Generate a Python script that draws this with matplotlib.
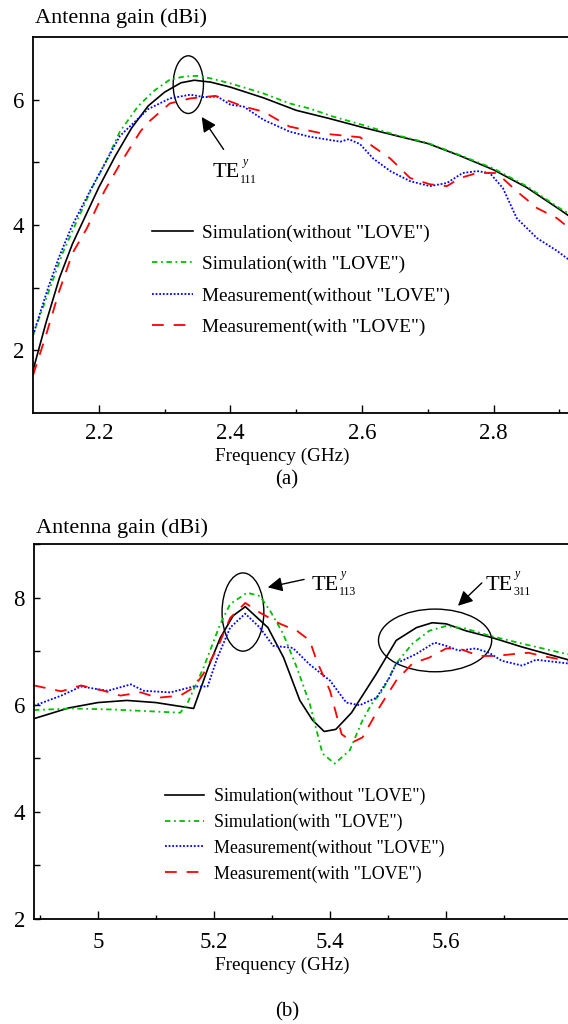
import numpy as np
import matplotlib
matplotlib.use("Agg")
from matplotlib import pyplot as plt
from matplotlib.patches import Ellipse
from matplotlib.ticker import FormatStrFormatter
from matplotlib.transforms import offset_copy

plt.rcParams['font.family'] = ['Liberation Serif', 'DejaVu Serif']

labels = ['Simulation(without "LOVE")', 'Simulation(with "LOVE")',
          'Measurement(without "LOVE")', 'Measurement(with "LOVE")']

# (a) 2.1 - 2.9 GHz
a_sim_wo_f = [2.10, 2.12, 2.14, 2.16, 2.18, 2.20, 2.225, 2.25, 2.275, 2.30, 2.325, 2.345, 2.37,
              2.40, 2.45, 2.50, 2.55, 2.60, 2.65, 2.70, 2.75, 2.80, 2.85, 2.90, 2.915]
a_sim_wo_g = [1.68, 2.45, 3.15, 3.70, 4.15, 4.60, 5.10, 5.55, 5.90, 6.12, 6.27, 6.31, 6.28,
              6.20, 6.03, 5.83, 5.70, 5.56, 5.43, 5.30, 5.10, 4.88, 4.60, 4.25, 4.14]
a_sim_w_f = [2.10, 2.126, 2.145, 2.164, 2.19, 2.209, 2.232, 2.26, 2.285, 2.308, 2.33, 2.349,
             2.37, 2.40, 2.45, 2.49, 2.52, 2.556, 2.60, 2.65, 2.70, 2.75, 2.80, 2.85, 2.90, 2.915]
a_sim_w_g = [2.24, 3.00, 3.55, 4.00, 4.60, 4.97, 5.49, 5.90, 6.15, 6.32, 6.37, 6.38,
             6.34, 6.26, 6.10, 5.94, 5.86, 5.73, 5.60, 5.44, 5.31, 5.11, 4.90, 4.62, 4.27, 4.18]
a_meas_wo_f = [2.10, 2.123, 2.14, 2.159, 2.187, 2.206, 2.232, 2.247, 2.275, 2.308, 2.339, 2.36,
               2.38, 2.40, 2.42, 2.45, 2.49, 2.52, 2.567, 2.58, 2.597, 2.617, 2.643, 2.673,
               2.703, 2.729, 2.753, 2.775, 2.794, 2.814, 2.835, 2.866, 2.896, 2.915]
a_meas_wo_g = [2.24, 3.00, 3.50, 3.98, 4.55, 4.92, 5.42, 5.57, 5.85, 6.02, 6.08, 6.04,
               6.05, 5.92, 5.89, 5.68, 5.49, 5.41, 5.33, 5.37, 5.29, 5.06, 4.86, 4.70,
               4.62, 4.67, 4.83, 4.86, 4.83, 4.59, 4.11, 3.79, 3.59, 3.44]
a_meas_w_f = [2.10, 2.12, 2.14, 2.16, 2.182, 2.209, 2.232, 2.263, 2.273, 2.308, 2.339, 2.377,
              2.42, 2.45, 2.49, 2.54, 2.597, 2.617, 2.643, 2.673, 2.703, 2.729, 2.749, 2.775,
              2.805, 2.835, 2.866, 2.896, 2.915]
a_meas_w_g = [1.60, 2.25, 2.95, 3.55, 3.95, 4.55, 4.97, 5.49, 5.62, 5.94, 6.02, 6.06,
              5.89, 5.81, 5.57, 5.46, 5.40, 5.25, 5.06, 4.75, 4.65, 4.62, 4.75, 4.83,
              4.83, 4.54, 4.27, 4.11, 3.95]

# (b) 4.9 - 5.8 GHz
b_sim_wo_f = [4.89, 4.95, 5.00, 5.05, 5.10, 5.165, 5.19, 5.211, 5.233, 5.254, 5.293, 5.32,
              5.348, 5.37, 5.39, 5.41, 5.437, 5.48, 5.514, 5.549, 5.576, 5.60, 5.634, 5.68,
              5.73, 5.81]
b_sim_wo_g = [5.74, 5.94, 6.04, 6.08, 6.04, 5.93, 6.69, 7.25, 7.66, 7.83, 7.44, 6.88,
              6.08, 5.71, 5.50, 5.54, 5.85, 6.58, 7.20, 7.44, 7.53, 7.51, 7.38, 7.25,
              7.08, 6.84]
b_sim_w_f = [4.89, 4.954, 5.027, 5.085, 5.142, 5.154, 5.182, 5.211, 5.228, 5.257, 5.279, 5.297,
             5.319, 5.343, 5.365, 5.387, 5.408, 5.434, 5.456, 5.471, 5.49, 5.514, 5.542,
             5.571, 5.60, 5.634, 5.674, 5.731, 5.81]
b_sim_w_g = [5.90, 5.93, 5.91, 5.88, 5.85, 6.02, 6.69, 7.51, 7.88, 8.09, 8.03, 7.75,
             7.33, 6.69, 6.02, 5.09, 4.90, 5.15, 5.71, 6.00, 6.26, 6.77, 7.14,
             7.38, 7.47, 7.42, 7.29, 7.14, 6.94]
b_meas_wo_f = [4.89, 4.937, 4.971, 5.017, 5.057, 5.079, 5.125, 5.165, 5.189, 5.206, 5.228,
               5.254, 5.279, 5.302, 5.336, 5.365, 5.40, 5.428, 5.451, 5.48, 5.502, 5.514,
               5.549, 5.58, 5.60, 5.622, 5.651, 5.674, 5.696, 5.731, 5.755, 5.81]
b_meas_wo_g = [5.98, 6.17, 6.34, 6.26, 6.38, 6.26, 6.23, 6.34, 6.34, 6.88, 7.44,
               7.70, 7.44, 7.10, 7.06, 6.75, 6.45, 6.04, 5.99, 6.13, 6.50, 6.77,
               6.95, 7.16, 7.10, 7.01, 7.05, 6.97, 6.82, 6.73, 6.84, 6.77]
b_meas_w_f = [4.89, 4.937, 4.971, 5.01, 5.039, 5.074, 5.103, 5.142, 5.165, 5.182, 5.206,
              5.228, 5.254, 5.279, 5.314, 5.343, 5.365, 5.377, 5.40, 5.42, 5.439, 5.456,
              5.485, 5.514, 5.542, 5.571, 5.60, 5.622, 5.657, 5.686, 5.72, 5.742, 5.765, 5.81]
b_meas_w_g = [6.36, 6.25, 6.36, 6.26, 6.17, 6.23, 6.13, 6.17, 6.32, 6.58, 7.06,
              7.62, 7.90, 7.72, 7.51, 7.38, 7.20, 6.82, 6.26, 5.45, 5.30, 5.39,
              5.95, 6.45, 6.77, 6.88, 7.05, 7.05, 6.91, 6.91, 6.95, 6.97, 6.91, 6.82]

styles = [dict(color='black', lw=1.2, ls='-'),
          dict(color='#00c000', lw=1.3, ls=(0, (3, 2, 1, 2))),
          dict(color='#0000ff', lw=1.3, ls=(0, (1, 1))),
          dict(color='#ff0000', lw=1.3, ls=(0, (6.5, 5.5)))]

fig = plt.figure(figsize=(5.68, 10.24), dpi=100)
W, H = 568.0, 1024.0


def setup(ax, xlim, ylim, xmaj, xmin, ymaj, ymin, xpad):
    ax.set_xlim(*xlim)
    ax.set_ylim(*ylim)
    ax.set_xticks(xmaj)
    ax.set_xticks(xmin, minor=True)
    ax.set_yticks(ymaj)
    ax.set_yticks(ymin, minor=True)
    ax.xaxis.set_major_formatter(FormatStrFormatter('%g'))
    ax.spines['right'].set_visible(False)
    for s in ['left', 'bottom', 'top']:
        ax.spines[s].set_linewidth(1.3)
    ax.tick_params(axis='both', which='both', direction='in', labelsize=16.5, width=1,
                   top=False, right=False)
    ax.tick_params(axis='x', which='major', length=6, pad=xpad)
    ax.tick_params(axis='x', which='minor', length=3)
    ax.tick_params(axis='y', which='both', length=4.5, pad=6.5)


def te_label(ax, x, y, sub):
    t = ax.text(x, y, 'TE', fontsize=16, ha='left', va='baseline')
    tr_sub = offset_copy(ax.transData, fig=fig, x=19.8, y=-4, units='points')
    tr_sup = offset_copy(ax.transData, fig=fig, x=21.5, y=9, units='points')
    ax.text(x, y, sub, fontsize=8.5, ha='left', va='baseline', transform=tr_sub)
    ax.text(x, y, 'y', fontsize=8.5, style='italic', ha='left', va='baseline', transform=tr_sup)
    return t


# (a)
ax1 = fig.add_axes([33 / W, 1 - 413 / H, (W - 33) / W, 376 / H])
setup(ax1, (2.1, 2.913), (1, 7), [2.2, 2.4, 2.6, 2.8], [2.3, 2.5, 2.7, 2.9],
      [2, 4, 6], [3, 5], 7)
ax1.plot(a_sim_wo_f, a_sim_wo_g, label=labels[0], **styles[0])
ax1.plot(a_sim_w_f, a_sim_w_g, label=labels[1], **styles[1])
ax1.plot(a_meas_wo_f, a_meas_wo_g, label=labels[2], **styles[2])
ax1.plot(a_meas_w_f, a_meas_w_g, label=labels[3], **styles[3])
ax1.add_patch(Ellipse((2.336, 6.24), 0.046, 0.92, fill=False, ec='black', lw=1))
ax1.annotate('', xy=(2.354, 5.76), xytext=(2.392, 5.17),
             arrowprops=dict(arrowstyle='-|>', mutation_scale=22, color='black', lw=1))
te_label(ax1, 2.373, 4.76, '111')
ax1.legend(loc='upper left', bbox_to_anchor=(152 / W, 1 - 224 / H),
           bbox_transform=fig.transFigure, frameon=False, fontsize=13.85,
           handlelength=2.13, handletextpad=0.47, labelspacing=0.73, borderpad=0,
           borderaxespad=0)
fig.text(35 / W, 1 - 18 / H, 'Antenna gain (dBi)', fontsize=16, va='center', ha='left')
fig.text(282 / W, 1 - 456 / H, 'Frequency (GHz)', fontsize=13.8, va='center', ha='center')
fig.text(287 / W, 1 - 480 / H, '(a)', fontsize=15, va='center', ha='center')

# (b)
ax2 = fig.add_axes([34 / W, 1 - 919 / H, (W - 34) / W, 375 / H])
setup(ax2, (4.89, 5.81), (2, 9), [5.0, 5.2, 5.4, 5.6], [4.9, 5.1, 5.3, 5.5, 5.7],
      [2, 4, 6, 8], [3, 5, 7, 9], 9.5)
ax2.plot(b_sim_wo_f, b_sim_wo_g, label=labels[0], **styles[0])
ax2.plot(b_sim_w_f, b_sim_w_g, label=labels[1], **styles[1])
ax2.plot(b_meas_wo_f, b_meas_wo_g, label=labels[2], **styles[2])
ax2.plot(b_meas_w_f, b_meas_w_g, label=labels[3], **styles[3])
ax2.add_patch(Ellipse((5.25, 7.73), 0.072, 1.46, fill=False, ec='black', lw=1))
ax2.add_patch(Ellipse((5.581, 7.2), 0.195, 1.17, fill=False, ec='black', lw=1))
ax2.annotate('', xy=(5.288, 8.18), xytext=(5.36, 8.35),
             arrowprops=dict(arrowstyle='-|>', mutation_scale=22, color='black', lw=1))
te_label(ax2, 5.368, 8.15, '113')
ax2.annotate('', xy=(5.617, 7.81), xytext=(5.665, 8.31),
             arrowprops=dict(arrowstyle='-|>', mutation_scale=22, color='black', lw=1))
te_label(ax2, 5.668, 8.15, '311')
ax2.legend(loc='upper left', bbox_to_anchor=(165 / W, 1 - 788 / H),
           bbox_transform=fig.transFigure, frameon=False, fontsize=12.9,
           handlelength=2.2, handletextpad=0.55, labelspacing=0.47, borderpad=0,
           borderaxespad=0)
fig.text(36 / W, 1 - 528 / H, 'Antenna gain (dBi)', fontsize=16, va='center', ha='left')
fig.text(282 / W, 1 - 965 / H, 'Frequency (GHz)', fontsize=13.8, va='center', ha='center')
fig.text(287 / W, 1 - 1012 / H, '(b)', fontsize=15, va='center', ha='center')

fig.savefig('out.png', dpi=100)
